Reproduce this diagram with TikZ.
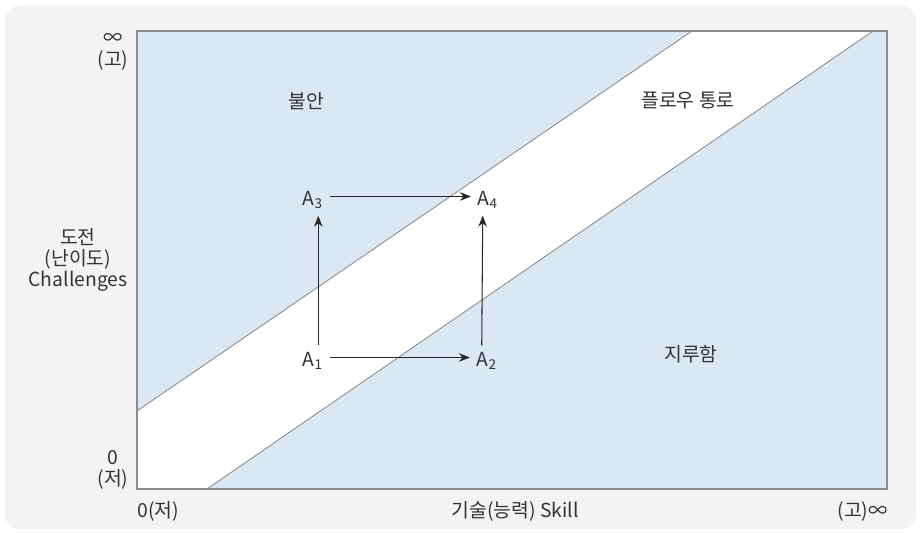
\documentclass[tikz,border=0pt]{standalone}
\usepackage{fontspec}
\setmainfont{Noto Sans CJK KR}
\usetikzlibrary{arrows.meta,positioning}
\definecolor{bgGray}{HTML}{F2F3F3}
\definecolor{zoneBlue}{HTML}{DCE7F4}
\definecolor{frameGray}{HTML}{8C8C8C}
\definecolor{textDark}{HTML}{333333}

\begin{document}
\begin{tikzpicture}[
    x=0.02cm, y=-0.02cm,
    txt/.style={text=textDark, font=\fontsize{11}{12.2}\selectfont, inner sep=0pt, align=center},
    state/.style={txt, outer sep=4pt},
    move/.style={-{Stealth[length=2.2mm,width=1.7mm]}, line width=0.6pt, black!85}
]
\useasboundingbox (0,0) rectangle (920,533);

% Background panel
\fill[bgGray, rounded corners=8pt] (5,6) rectangle (916,529);

% Zones
\fill[zoneBlue] (137,31) rectangle (887,489);
\fill[white] (137,411) -- (692,31) -- (873,31) -- (207,489) -- (137,489) -- cycle;
\draw[frameGray, line width=0.5pt] (137,411) -- (692,31);
\draw[frameGray, line width=0.5pt] (207,489) -- (873,31);
\draw[frameGray, line width=0.8pt] (137,31) rectangle (887,489);

% Zone labels
\node[txt] (anxiety) at (306,101) {불안};
\node[txt] (flow) at (688,101) {플로우 통로};
\node[txt] (boredom) at (691,354) {지루함};

% Axis labels
\node[txt] (yHigh) at (113,52) {∞\\(고)};
\node[txt] (yLow) at (113,470) {0\\(저)};
\node[txt] (yName) at (78,260) {도전\\(난이도)\\Challenges};
\node[txt, anchor=west] (xLow) at (137,511) {0(저)};
\node[txt] (xName) at (515,511) {기술(능력) Skill};
\node[txt, anchor=east] (xHigh) at (888,511) {(고)∞};

% States
\node[state] (A1) at (313,361) {A\textsubscript{1}};
\node[state] (A2) at (487,361) {A\textsubscript{2}};
\node[state] (A3) at (313,200) {A\textsubscript{3}};
\node[state] (A4) at (488,200) {A\textsubscript{4}};

% Moves
\draw[move] ([yshift=2pt]A1.east) -- ([yshift=2pt]A2.west);
\draw[move] ([yshift=2pt]A3.east) -- ([yshift=2pt]A4.west);
\draw[move] ([xshift=3pt]A1.north) -- ([xshift=3pt]A3.south);
\draw[move] ([xshift=-3pt]A2.north) -- ([xshift=-3pt]A4.south);

\end{tikzpicture}
\end{document}
